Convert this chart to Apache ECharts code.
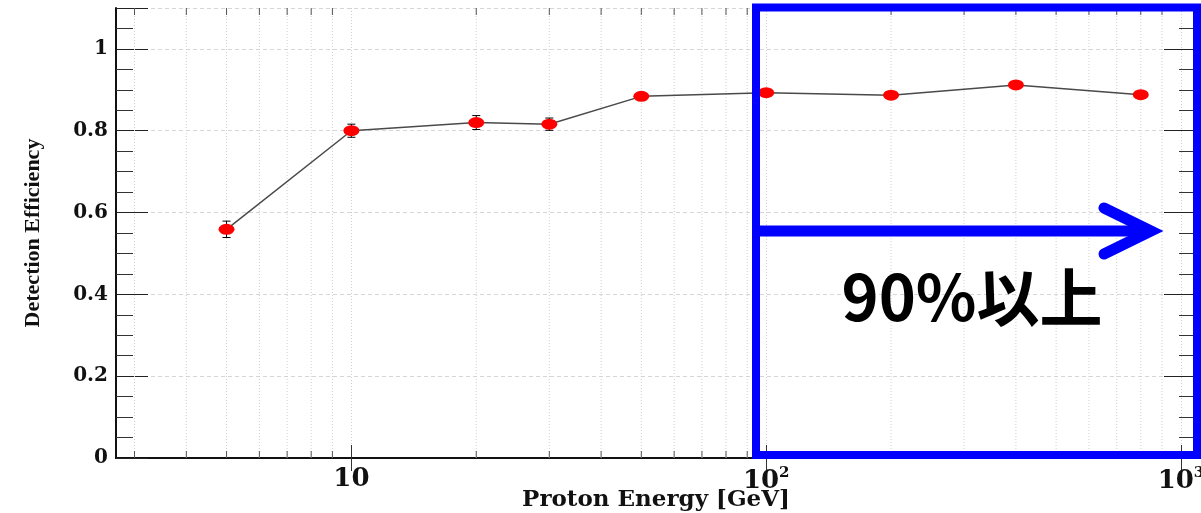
<!DOCTYPE html>
<html>
<head>
<meta charset="utf-8">
<script src="https://cdn.jsdelivr.net/npm/echarts@6/dist/echarts.min.js"></script>
<style>
  html, body { margin: 0; padding: 0; background: #fff; }
  #chart { width: 1201px; height: 513px; }
</style>
</head>
<body>
<div id="chart"></div>
<script>
// proton energy [GeV] and measured detection efficiency
var energies = [5, 10, 20, 30, 50, 100, 200, 400, 800];
var efficiency = [0.559, 0.800, 0.820, 0.816, 0.884, 0.893, 0.887, 0.912, 0.888];
var errors = [0.020, 0.016, 0.017, 0.015, 0.006, 0.006, 0.005, 0.005, 0.005];
// log axis tick positions
var majorTicks = [10, 100, 1000];
var minorTicks = [3, 4, 5, 6, 7, 8, 9, 20, 30, 40, 50, 60, 70, 80, 90, 200, 300, 400, 500, 600, 700, 800, 900];

var X_MIN = 2.707, X_MAX = 1087;
var Y_MIN = 0, Y_MAX = 1.1;

var chart = echarts.init(document.getElementById('chart'));

function renderMinor(params, api) {
  var v = api.value(0);
  var b = api.coord([v, Y_MIN]);
  var t = api.coord([v, Y_MAX]);
  return {
    type: 'group',
    children: [
      { type: 'line', shape: { x1: b[0], y1: b[1], x2: t[0], y2: t[1] },
        style: { stroke: '#cfcfcf', lineWidth: 1, lineDash: [1, 2] } },
      { type: 'line', shape: { x1: b[0], y1: b[1], x2: b[0], y2: b[1] - 7 },
        style: { stroke: '#555', lineWidth: 1 } },
      { type: 'line', shape: { x1: t[0], y1: t[1], x2: t[0], y2: t[1] + 7 },
        style: { stroke: '#555', lineWidth: 1 } }
    ]
  };
}

function renderErr(params, api) {
  var x = api.value(0);
  var lo = api.coord([x, api.value(1)]);
  var hi = api.coord([x, api.value(2)]);
  var w = 4;
  var st = { stroke: '#000', lineWidth: 1 };
  return {
    type: 'group',
    children: [
      { type: 'line', shape: { x1: lo[0], y1: lo[1], x2: hi[0], y2: hi[1] }, style: st },
      { type: 'line', shape: { x1: lo[0] - w, y1: lo[1], x2: lo[0] + w, y2: lo[1] }, style: st },
      { type: 'line', shape: { x1: hi[0] - w, y1: hi[1], x2: hi[0] + w, y2: hi[1] }, style: st }
    ]
  };
}

var option = {
  animation: false,
  backgroundColor: '#fff',
  grid: {
    left: 116,
    right: 5,
    top: 8,
    bottom: 55,
    containLabel: false,
    outerBoundsMode: 'none'
  },
  xAxis: [
    {
      type: 'log',
      logBase: 10,
      min: X_MIN,
      max: X_MAX,
      name: 'Proton Energy [GeV]',
      nameLocation: 'middle',
      nameMoveOverlap: false,
      nameGap: 31,
      nameTextStyle: {
        fontFamily: 'DejaVu Serif',
        fontWeight: 'bold',
        fontSize: 23,
        color: '#111'
      },
      axisLine: { lineStyle: { color: '#111', width: 2 } },
      axisTick: { inside: true, length: 13, customValues: majorTicks, lineStyle: { color: '#333' } },
      splitLine: { show: true, lineStyle: { color: '#cfcfcf', type: [1, 2] } },
      axisLabel: {
        customValues: majorTicks,
        margin: 8,
        fontFamily: 'DejaVu Serif',
        fontWeight: 'bold',
        fontSize: 26,
        color: '#111',
        formatter: function (v) {
          var p = Math.round(Math.log10(v));
          if (p === 1) return '10';
          return '10{sup|' + p + '}';
        },
        rich: {
          sup: {
            fontFamily: 'DejaVu Serif',
            fontWeight: 'bold',
            fontSize: 15,
            verticalAlign: 'top',
            padding: [0, 0, 16, 0],
            color: '#111'
          }
        }
      }
    },
    {
      type: 'log',
      logBase: 10,
      position: 'top',
      min: X_MIN,
      max: X_MAX,
      axisLine: { lineStyle: { color: '#111', width: 2 } },
      axisTick: { inside: true, length: 13, customValues: majorTicks, lineStyle: { color: '#333' } },
      axisLabel: { show: false },
      splitLine: { show: false }
    }
  ],
  yAxis: [
    {
      type: 'value',
      min: Y_MIN,
      max: Y_MAX,
      interval: 0.2,
      name: 'Detection Efficiency',
      nameLocation: 'middle',
      nameMoveOverlap: false,
      nameRotate: 90,
      nameGap: 72,
      nameTextStyle: {
        fontFamily: 'Liberation Serif',
        fontWeight: 'bold',
        fontSize: 22,
        color: '#111'
      },
      axisLine: { show: true, lineStyle: { color: '#111', width: 2 } },
      axisTick: { show: true, inside: true, length: 32, lineStyle: { color: '#222' } },
      minorTick: { show: true, splitNumber: 4, length: 17, lineStyle: { color: '#333' } },
      splitLine: { show: true, lineStyle: { color: '#d6d6d6', type: [4, 3] } },
      axisLabel: {
        showMaxLabel: false,
        margin: 8,
        fontFamily: 'DejaVu Serif',
        fontWeight: 'bold',
        fontSize: 20,
        color: '#111',
        formatter: function (v) {
          return String(Math.round(v * 10) / 10);
        }
      }
    },
    {
      type: 'value',
      position: 'right',
      min: Y_MIN,
      max: Y_MAX,
      interval: 0.2,
      axisLine: { show: true, lineStyle: { color: '#111', width: 2 } },
      axisTick: { show: true, inside: true, length: 32, lineStyle: { color: '#222' } },
      minorTick: { show: true, splitNumber: 4, length: 17, lineStyle: { color: '#333' } },
      axisLabel: { show: false },
      splitLine: { show: false }
    }
  ],
  series: [
    {
      type: 'custom',
      name: 'minor',
      silent: true,
      clip: false,
      z: 1,
      renderItem: renderMinor,
      data: minorTicks.map(function (v) { return [v, 0]; })
    },
    {
      type: 'custom',
      name: 'error',
      silent: true,
      z: 3,
      renderItem: renderErr,
      data: energies.map(function (e, i) {
        return [e, efficiency[i] - errors[i], efficiency[i] + errors[i]];
      })
    },
    {
      type: 'line',
      name: 'efficiency',
      z: 4,
      symbol: 'circle',
      symbolSize: [16, 11],
      itemStyle: { color: '#ff0000' },
      lineStyle: { color: '#4a4a4a', width: 1.5 },
      data: energies.map(function (e, i) { return [e, efficiency[i]]; })
    }
  ],
  graphic: [
    {
      type: 'rect',
      z: 100,
      shape: { x: 756, y: 7.5, width: 441, height: 447.5 },
      style: { fill: 'none', stroke: '#0000ff', lineWidth: 8 }
    },
    {
      type: 'line',
      z: 100,
      shape: { x1: 756, y1: 231, x2: 1148, y2: 231 },
      style: { stroke: '#0000ff', lineWidth: 11 }
    },
    {
      type: 'polyline',
      z: 100,
      shape: { points: [[1104, 208], [1151, 231], [1104, 254]] },
      style: { stroke: '#0000ff', lineWidth: 11, fill: 'none', lineCap: 'round', lineJoin: 'miter' }
    },
    {
      type: 'text',
      z: 100,
      x: 972,
      y: 297,
      style: {
        text: '90%以上',
        fontFamily: 'Noto Sans CJK JP',
        fontWeight: 'bold',
        fontSize: 63,
        fill: '#000',
        align: 'center',
        verticalAlign: 'middle'
      }
    }
  ]
};

chart.setOption(option);
</script>
</body>
</html>
